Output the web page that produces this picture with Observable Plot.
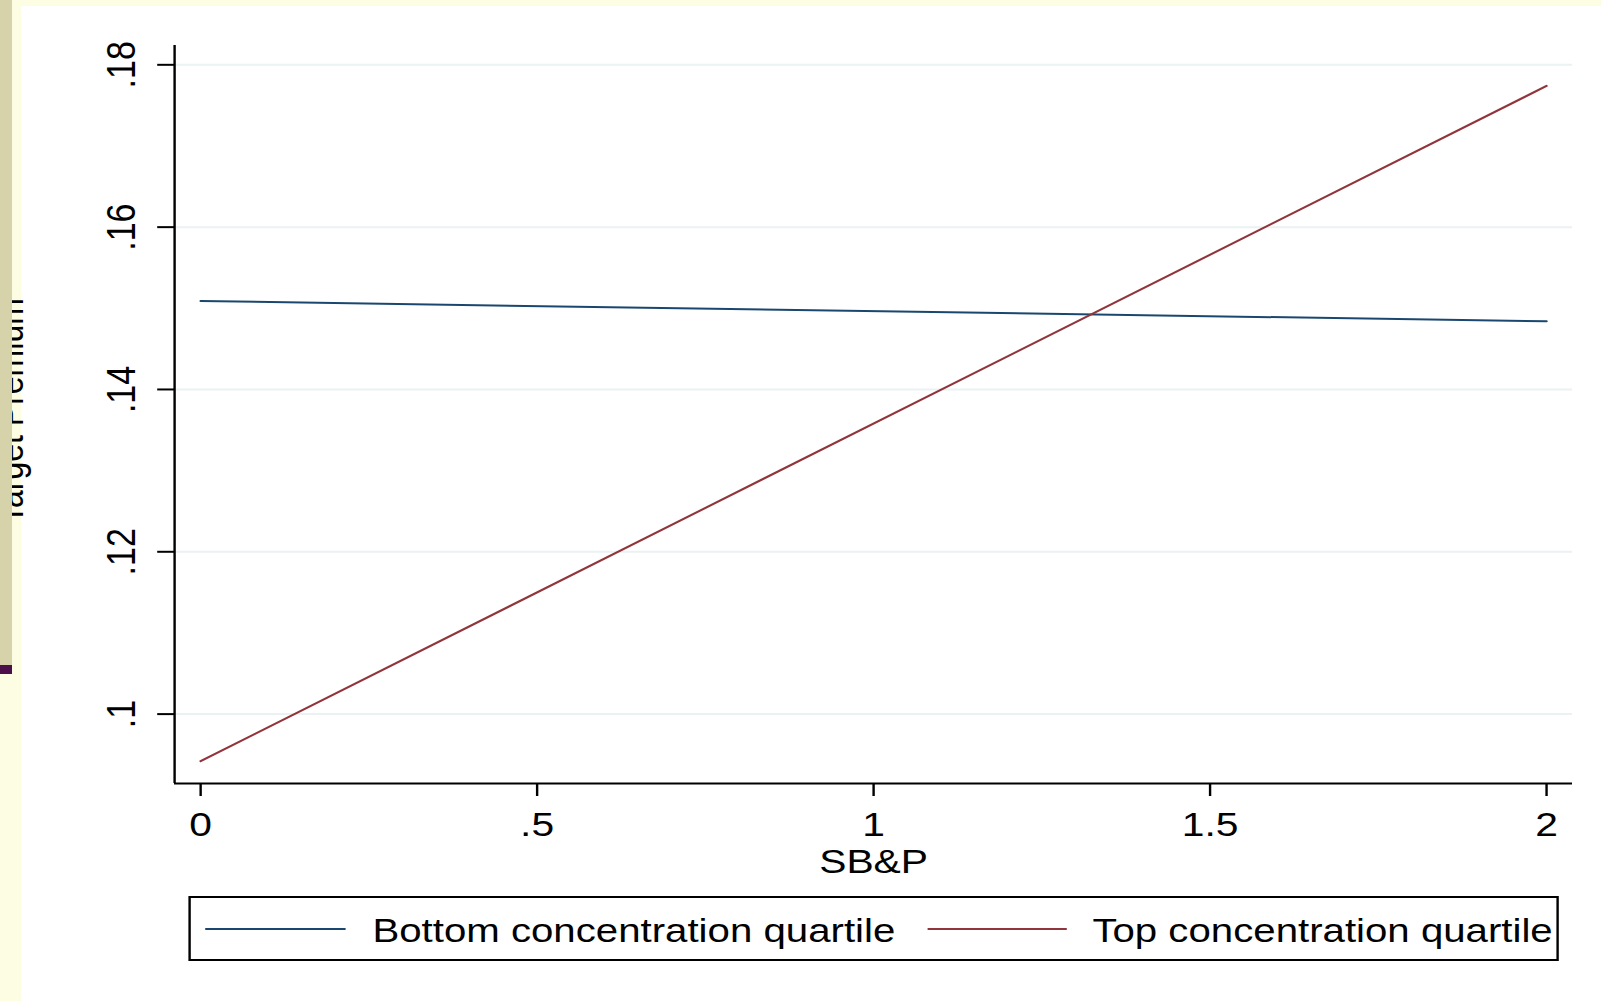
<!DOCTYPE html>
<html>
<head>
<meta charset="utf-8">
<script src="https://cdn.jsdelivr.net/npm/d3@7"></script>
<script src="https://cdn.jsdelivr.net/npm/@observablehq/plot@0.6"></script>
<style>
  html, body { margin: 0; padding: 0; }
  body { width: 1601px; height: 1001px; background: #fdfde4; position: relative; overflow: hidden;
         font-family: "Liberation Sans", Arial, Helvetica, sans-serif; color: #000; }
  #white { position: absolute; left: 21px; top: 6px; right: 0; bottom: 0; background: #ffffff; }
  #stage { position: absolute; left: 0; top: 0; width: 1334px; height: 1001px; transform-origin: 0 0; }
  #strip { position: absolute; left: 0; top: 0; width: 12px; height: 665px; background: #d6d3aa; z-index: 5; }
  #bar { position: absolute; left: 0; top: 665px; width: 12px; height: 9px; background: #4b0f4b; z-index: 5; }
  #ylab { position: absolute; font-size: 32px; line-height: 1; white-space: nowrap; transform: rotate(-90deg); transform-origin: 0 0; }
  #legend { position: absolute; box-sizing: border-box; border: 2px solid #000; height: 65px; }
  .sw { position: absolute; height: 2px; }
  .lt { position: absolute; font-size: 33.5px; line-height: 1; white-space: nowrap; }
</style>
</head>
<body>
<div id="white"></div>
<div id="stage"></div>
<div id="strip"></div>
<div id="bar"></div>
<script>
// ---- data ----
const xValues = [0, 2];
const bottomQuartile = [0.1509, 0.1484];
const topQuartile = [0.0942, 0.1774];
const seriesNames = ["Bottom concentration quartile", "Top concentration quartile"];
const seriesColors = ["#1a476f", "#90353b"];
const xTicks = [0, 0.5, 1, 1.5, 2];
const yTicks = [0.10, 0.12, 0.14, 0.16, 0.18];
const xDomain = [-0.0387, 2.0387];
const yDomain = [0.09145, 0.18238];
const xTitle = "SB&P";
const yTitle = "Target Premium";

// the original picture is stretched horizontally
const S = 1.2;
const W = 1334;

const rows = xValues.flatMap((x, i) => [
  {x, y: bottomQuartile[i], s: seriesNames[0]},
  {x, y: topQuartile[i], s: seriesNames[1]}
]);

const fmt = d => d === 0 ? "0" : d3.format("~g")(d).replace(/^0\./, ".");

const stage = document.getElementById("stage");
stage.style.transform = `scaleX(${S})`;

const chart = Plot.plot({
  width: W,
  height: 880,
  marginLeft: 145,
  marginRight: 24,
  marginTop: 45,
  marginBottom: 97,
  style: {background: "transparent", fontFamily: '"Liberation Sans", Arial, Helvetica, sans-serif', fontSize: "34px", color: "#000", overflow: "visible"},
  x: {domain: xDomain},
  y: {domain: yDomain},
  color: {domain: seriesNames, range: seriesColors},
  marks: [
    Plot.gridY(yTicks, {stroke: "#eaf2f3", strokeOpacity: 1, strokeWidth: 2}),
    Plot.ruleX([xDomain[0]], {stroke: "#000", strokeWidth: 2}),
    Plot.ruleY([yDomain[0]], {stroke: "#000", strokeWidth: 2}),
    Plot.axisX(xTicks, {tickSize: 13, tickPadding: 15, tickFormat: fmt, strokeWidth: 2,
      label: xTitle, labelAnchor: "center", labelOffset: 89, labelArrow: "none"}),
    Plot.axisY(yTicks, {tickSize: 14, tickPadding: 19, tickRotate: -90, tickFormat: fmt, strokeWidth: 2, label: null}),
    Plot.line(rows, {x: "x", y: "y", z: "s", stroke: "s", strokeWidth: 2})
  ]
});
stage.appendChild(chart);

// y axis title (partly hidden behind the slide's side strip)
const ylab = document.createElement("div");
ylab.id = "ylab";
ylab.textContent = yTitle;
ylab.style.left = (-7.9) + "px";
ylab.style.top = "524px";
stage.appendChild(ylab);

// legend below the chart
const legend = document.createElement("div");
legend.id = "legend";
legend.style.left = (188 / S) + "px";
legend.style.top = "896px";
legend.style.width = ((1559 - 188) / S) + "px";
const swatchX = [205, 927];
const textX = [372, 1092];
seriesNames.forEach((name, i) => {
  const sw = document.createElement("div");
  sw.className = "sw";
  sw.style.left = ((swatchX[i] - 190) / S) + "px";
  sw.style.width = (140 / S) + "px";
  sw.style.top = "30px";
  sw.style.background = seriesColors[i];
  legend.appendChild(sw);
  const t = document.createElement("div");
  t.className = "lt";
  t.style.left = ((textX[i] - 190) / S) + "px";
  t.style.top = "16px";
  t.textContent = name;
  legend.appendChild(t);
});
stage.appendChild(legend);
</script>
</body>
</html>
